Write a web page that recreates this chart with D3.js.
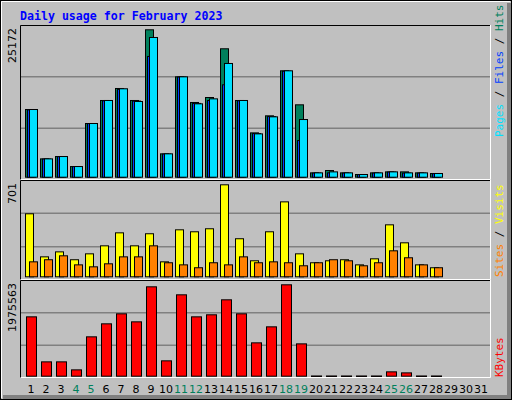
<!DOCTYPE html>
<html><head><meta charset="utf-8">
<script src="https://cdn.jsdelivr.net/npm/d3@7/dist/d3.min.js"></script>
<style>body{margin:0;background:#fff}</style></head><body>
<script>
const days = d3.range(1, 32);
const weekend = [4,5,11,12,18,19,25,26];
const hits  = [11560,3130,3530,1820,9170,13100,15150,13100,25172,3990,17140,12760,13610,21930,13100,7570,10480,18170,12360,740,1140,740,460,740,910,910,740,630];
const files = [11500,3100,3500,1800,9150,13050,15000,13000,20620,3950,17100,12600,13100,15780,13050,7450,10350,18100,6260,700,740,700,440,700,880,700,700,600];
const pages = [11560,3130,3530,1820,9170,13100,15100,12930,23860,3990,17140,12530,13380,19420,13100,7400,10310,18170,9850,740,910,740,460,740,910,740,740,630];
const visits = [480,152,190,130,175,236,335,236,328,114,358,343,366,701,290,122,343,571,175,107,122,130,91,137,396,259,91,69];
const sites  = [114,130,160,91,76,99,152,152,236,107,91,69,107,91,152,107,114,107,84,107,130,122,84,107,198,145,91,69];
const kbytes = [1283000,310000,310000,137000,851000,1132000,1348000,1175000,1932000,332000,1759000,1283000,1327000,1651000,1348000,721000,1067000,1975563,699000,5000,5000,5000,5000,5000,94000,72000,5000,5000];
const C = {hit:"#00805c", file:"#0040ff", page:"#00e0ff", visit:"#ffff00", site:"#ff8000", kb:"#ff0000"};

const svg = d3.select("body").append("svg").attr("width",512).attr("height",400);
svg.append("rect").attr("x",0).attr("y",0).attr("width",512).attr("height",400).attr("fill","#c0c0c0");
svg.append("rect").attr("x",507).attr("y",3).attr("width",4).attr("height",396).attr("fill","#808080");
svg.append("rect").attr("x",3).attr("y",395).attr("width",508).attr("height",4).attr("fill","#808080");
svg.append("rect").attr("x",0.5).attr("y",0.5).attr("width",511).attr("height",399).attr("fill","none").attr("stroke","#000");
svg.append("path").attr("d","M1.5,398V1.5H510").attr("stroke","#fff").attr("fill","none");

svg.append("text").attr("x",20).attr("y",20).text("Daily usage for February 2023")
  .attr("font-family","DejaVu Sans Mono").attr("font-weight","bold").attr("font-size","11.6px").attr("fill","#0000ff");

const x = d3.scaleLinear().domain([1,2]).range([25,40]);

const panels = [
  {top:25, bot:180, base:176.7, maxY:29.3, max:25172, label:"25172",
   series:[[hits,C.hit,0,8],[files,C.file,2,10],[pages,C.page,4,12]]},
  {top:180, bot:280, base:276.3, maxY:184.3, max:701, label:"701",
   series:[[visits,C.visit,0,8],[sites,C.site,4,12]]},
  {top:280, bot:378, base:375.7, maxY:284.3, max:1975563, label:"1975563",
   series:[[kbytes,C.kb,1,11]]}
];
panels.forEach(p=>{
  const g = svg.append("g");
  const h = p.bot - p.top;
  [1,2].forEach(i=>{
    const yy = p.top + h*i/3;
    g.append("line").attr("x1",21).attr("x2",490).attr("y1",yy).attr("y2",yy).attr("stroke","#808080").attr("stroke-width",1.5);
  });
  g.append("path").attr("d",`M20.5,${p.bot}V${p.top+0.5}H491`).attr("stroke","#000").attr("fill","none");
  g.append("path").attr("d",`M20.5,${p.bot-0.5}H490.5V${p.top}`).attr("stroke","#fff").attr("fill","none");
  const y = d3.scaleLinear().domain([0,p.max]).range([p.base,p.maxY]);
  p.series.forEach(([vals,col,o1,o2])=>{
    g.selectAll(null).data(vals).enter().append("rect")
      .attr("x",(d,i)=>x(i+1)+o1+0.5).attr("width",o2-o1)
      .attr("y",d=>y(d)+0.5).attr("height",d=>Math.max(0.5,y(0)-y(d)))
      .attr("fill",col).attr("stroke","#000").attr("stroke-width",1);
  });
  g.append("text").attr("transform",`translate(16,${p.top+3}) rotate(-90)`).attr("text-anchor","end")
    .attr("font-family","DejaVu Sans").attr("font-size","11px").attr("fill","#000").text(p.label);
});

// day labels
svg.selectAll(null).data(days).enter().append("text")
  .attr("x",d=>x(d)+6).attr("y",393).attr("text-anchor","middle")
  .attr("font-family","DejaVu Sans").attr("font-size","11px")
  .attr("fill",d=>weekend.includes(d)?"#00805c":"#000").text(d=>d);

// right legends
function legend(yBottom, parts){
  const t = svg.append("text").attr("transform",`translate(503,${yBottom}) rotate(-90)`)
    .attr("font-family","DejaVu Sans Mono").attr("font-size","11px");
  parts.forEach(([s,c])=>t.append("tspan").attr("fill",c).text(s));
}
legend(137,[["Pages",C.page],[" / ","#000"],["Files",C.file],[" / ","#000"],["Hits",C.hit]]);
legend(277,[["Sites",C.site],[" / ","#000"],["Visits",C.visit]]);
legend(377,[["KBytes",C.kb]]);
</script></body></html>
